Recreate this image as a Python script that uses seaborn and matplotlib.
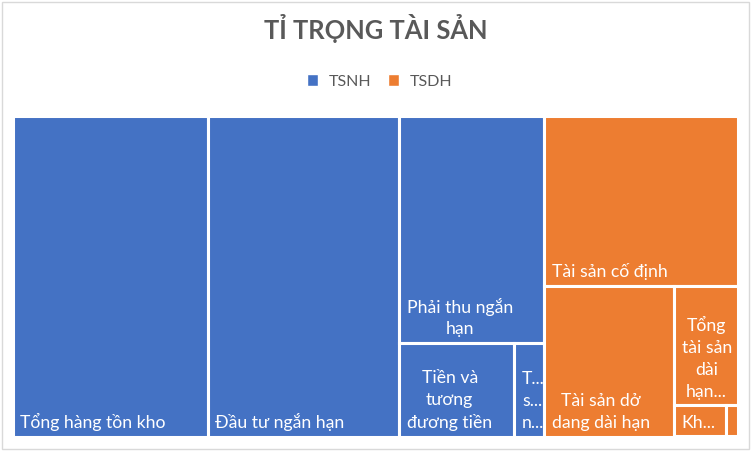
import matplotlib.pyplot as plt
from matplotlib.patches import Rectangle, Patch
import seaborn as sns

# data (relative asset sizes)
groups = ["TSNH", "TSDH"]
group_colors = sns.color_palette(["#4472C4", "#ED7D31"])

tsnh_names = ["Tổng hàng tồn kho", "Đầu tư ngắn hạn", "Phải thu ngắn hạn",
              "Tiền và tương đương tiền", "Tài sản ngắn hạn khác"]
tsnh_values = [269.1, 264.5, 141.3, 45.9, 12.2]
tsnh_shown = ["Tổng hàng tồn kho", "Đầu tư ngắn hạn", "Phải thu ngắn\nhạn",
              "Tiền và\ntương\nđương tiền", "T...\ns...\nn..."]

tsdh_names = ["Tài sản cố định", "Tài sản dở dang dài hạn", "Tổng tài sản dài hạn khác",
              "Khoản phải thu dài hạn", "Bất động sản đầu tư"]
tsdh_values = [141.8, 83.9, 32.7, 7.0, 1.5]
tsdh_shown = ["Tài sản cố định", "Tài sản dở\ndang dài hạn", "Tổng\ntài sản\ndài\nhạn...",
              "Kh...", ""]


# squarified treemap layout
def layout(sizes, x, y, dx, dy):
    rects = []
    if dx >= dy:
        w = sum(sizes) / dy
        for s in sizes:
            rects.append((x, y, w, s / w))
            y += s / w
    else:
        h = sum(sizes) / dx
        for s in sizes:
            rects.append((x, y, s / h, h))
            x += s / h
    return rects


def leftover(sizes, x, y, dx, dy):
    if dx >= dy:
        w = sum(sizes) / dy
        return x + w, y, dx - w, dy
    h = sum(sizes) / dx
    return x, y + h, dx, dy - h


def worst(sizes, x, y, dx, dy):
    return max(max(w / h, h / w) for _, _, w, h in layout(sizes, x, y, dx, dy))


def squarify(sizes, x, y, dx, dy):
    if len(sizes) == 0:
        return []
    if len(sizes) == 1:
        return layout(sizes, x, y, dx, dy)
    i = 1
    while i < len(sizes) and worst(sizes[:i], x, y, dx, dy) >= worst(sizes[:i + 1], x, y, dx, dy):
        i += 1
    cur, rest = sizes[:i], sizes[i:]
    return layout(cur, x, y, dx, dy) + squarify(rest, *leftover(cur, x, y, dx, dy))


def normalize(sizes, dx, dy):
    total = sum(sizes)
    return [s * dx * dy / total for s in sizes]


sns.set_theme(style="white")
plt.rcParams["font.family"] = ["Lato", "DejaVu Sans"]

W, H = 725, 321
fig = plt.figure(figsize=(7.51, 4.51), dpi=100)
ax = fig.add_axes([12.5 / 751, 14.5 / 451, W / 751, H / 451])
ax.set_xlim(0, W)
ax.set_ylim(H, 0)
ax.axis("off")

group_vals = [tsnh_values, tsdh_values]
group_labels = [tsnh_shown, tsdh_shown]
group_rects = squarify(normalize([sum(v) for v in group_vals], W, H), 0, 0, W, H)

for (gx, gy, gw, gh), vals, shown, col in zip(group_rects, group_vals, group_labels, group_colors):
    rects = squarify(normalize(vals, gw, gh), gx, gy, gw, gh)
    for (x, y, w, h), lab in zip(rects, shown):
        ax.add_patch(Rectangle((x, y), w, h, facecolor=col, edgecolor="white", linewidth=2.2))
        if lab:
            ax.annotate(lab, xy=(x, y + h), xytext=(5.6, 4.0), textcoords="offset points",
                        ha="left", va="bottom", multialignment="center", color="white",
                        fontsize=12.7, linespacing=1.45)

fig.text(0.5, 1 - 39 / 451, "TỈ TRỌNG TÀI SẢN", ha="center", va="baseline",
         fontsize=18.4, fontweight="bold", color="#595959")

handles = [Patch(facecolor=c, label=g) for g, c in zip(groups, group_colors)]
fig.legend(handles=handles, loc="center", bbox_to_anchor=(379.5 / 751, 1 - 81.5 / 451), ncol=2,
           frameon=False, fontsize=11.5, labelcolor="#595959", handlelength=0.69,
           handleheight=0.69, handletextpad=0.66, columnspacing=1.06)

fig.add_artist(Rectangle((1.5 / 751, 2.5 / 451), 747 / 751, 447 / 451, transform=fig.transFigure,
                         fill=False, edgecolor="#D9D9D9", linewidth=1))

fig.savefig("out.png", dpi=100)
